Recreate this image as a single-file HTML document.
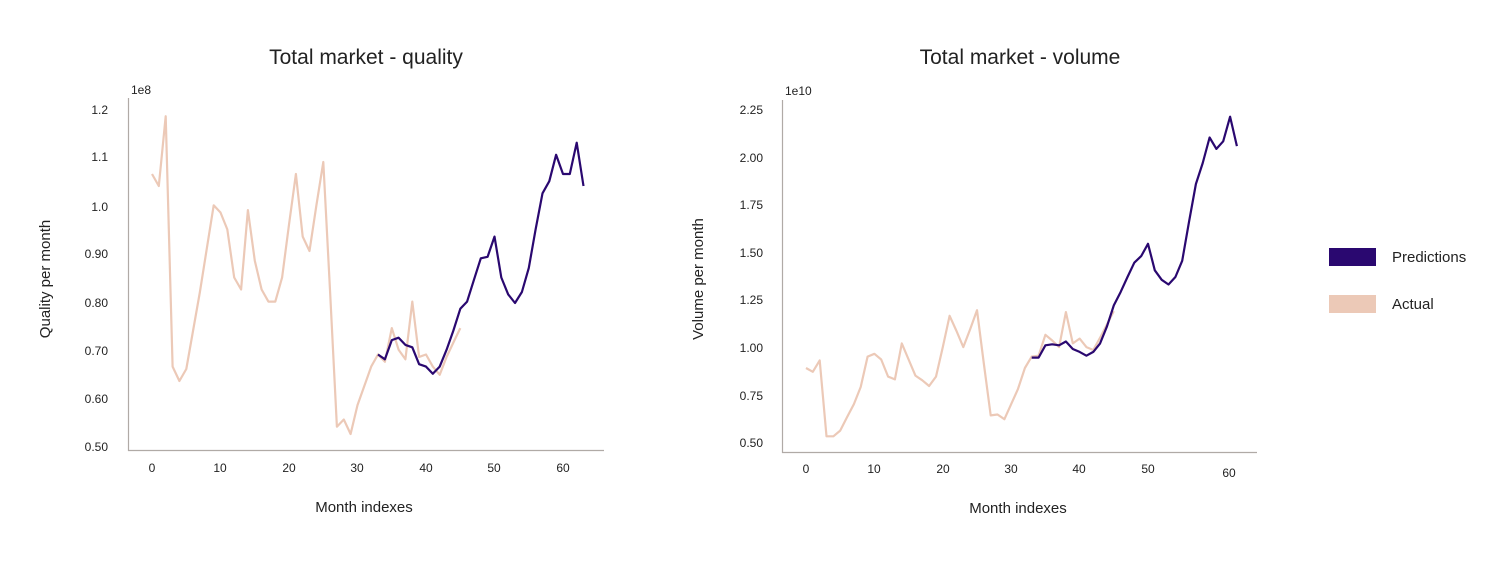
<!DOCTYPE html><html><head><meta charset="utf-8"><style>body{margin:0;background:#fff}svg{display:block;font-family:"Liberation Sans",sans-serif}</style></head><body>
<svg id="s" width="1500" height="575" xmlns="http://www.w3.org/2000/svg">
<text x="366" y="64" font-size="21" text-anchor="middle" fill="#222">Total market - quality</text>
<text x="1020" y="64" font-size="21" text-anchor="middle" fill="#222">Total market - volume</text>
<line x1="128.5" y1="98" x2="128.5" y2="451" stroke="#b0aaa6" stroke-width="1.2"/>
<line x1="128" y1="450.5" x2="604" y2="450.5" stroke="#b0aaa6" stroke-width="1.2"/>
<line x1="782.5" y1="100" x2="782.5" y2="453" stroke="#b0aaa6" stroke-width="1.2"/>
<line x1="782" y1="452.5" x2="1257" y2="452.5" stroke="#b0aaa6" stroke-width="1.2"/>
<g font-size="12" fill="#222">
<text x="131" y="94">1e8</text><text x="785" y="95">1e10</text>
<g text-anchor="end"><text x="108" y="114">1.2</text><text x="108" y="161">1.1</text><text x="108" y="211">1.0</text><text x="108" y="258">0.90</text><text x="108" y="307">0.80</text><text x="108" y="355">0.70</text><text x="108" y="403">0.60</text><text x="108" y="451">0.50</text>
<text x="763" y="114">2.25</text><text x="763" y="162">2.00</text><text x="763" y="209">1.75</text><text x="763" y="257">1.50</text><text x="763" y="304">1.25</text><text x="763" y="352">1.00</text><text x="763" y="400">0.75</text><text x="763" y="447">0.50</text></g>
<g text-anchor="middle"><text x="152" y="472">0</text><text x="220" y="472">10</text><text x="289" y="472">20</text><text x="357" y="472">30</text><text x="426" y="472">40</text><text x="494" y="472">50</text><text x="563" y="472">60</text>
<text x="806" y="473">0</text><text x="874" y="473">10</text><text x="943" y="473">20</text><text x="1011" y="473">30</text><text x="1079" y="473">40</text><text x="1148" y="473">50</text><text x="1229" y="477">60</text></g>
</g>
<g font-size="15" fill="#222" text-anchor="middle">
<text x="364" y="512">Month indexes</text><text x="1018" y="513">Month indexes</text>
<text transform="translate(50,279) rotate(-90)">Quality per month</text>
<text transform="translate(703,279) rotate(-90)">Volume per month</text>
</g>
<rect x="1329" y="248" width="47" height="18" fill="#2a0870"/><rect x="1329" y="295" width="47" height="18" fill="#ecc9b7"/>
<text x="1392" y="262" font-size="15" fill="#222">Predictions</text><text x="1392" y="309" font-size="15" fill="#222">Actual</text>
<g id="g" fill="none" stroke-width="2.2" stroke-linejoin="round"></g>
</svg>
<script>
var LA=[1.065,1.04,1.185,.665,.635,.66,.74,.82,.91,1.0,.985,.95,.85,.825,.99,.885,.825,.8,.8,.85,.96,1.065,.935,.905,1.0,1.09,.82,.54,.555,.525,.585,.625,.665,.69,.675,.745,.7,.68,.8,.685,.69,.665,.648,.685,.715,.745];
var LP=[.69,.68,.72,.725,.71,.705,.67,.665,.65,.665,.70,.74,.785,.80,.845,.89,.893,.935,.85,.815,.797,.82,.87,.95,1.025,1.05,1.105,1.065,1.065,1.13,1.04];
var RA=[.89,.87,.93,.53,.53,.56,.63,.70,.79,.95,.965,.935,.845,.83,1.02,.935,.85,.825,.795,.845,1.0,1.165,1.085,1.0,1.095,1.195,.915,.64,.645,.62,.70,.78,.89,.95,.955,1.065,1.035,1.0,1.185,1.02,1.045,1.0,.985,1.05,1.12,1.19];
var RP=[.945,.945,1.01,1.015,1.01,1.03,.99,.975,.955,.975,1.02,1.11,1.22,1.29,1.37,1.445,1.48,1.545,1.405,1.355,1.33,1.37,1.455,1.66,1.86,1.97,2.105,2.045,2.085,2.215,2.06];
var g=document.getElementById('g');
function pl(d,s,x0,dx,y0,v0,k,c){var p=d.map(function(v,i){return (x0+(s+i)*dx).toFixed(1)+','+(y0-(v-v0)*k).toFixed(1)}).join(' ');
var e=document.createElementNS('http://www.w3.org/2000/svg','polyline');e.setAttribute('points',p);e.setAttribute('stroke',c);g.appendChild(e);}
pl(LA,0,152,6.85,446,.5,481.4,'#ecc9b7');pl(LP,33,152,6.85,446,.5,481.4,'#2a0870');
pl(RA,0,806,6.84,442,.5,189.7,'#ecc9b7');pl(RP,33,806,6.84,442,.5,189.7,'#2a0870');
</script>
</body></html>
